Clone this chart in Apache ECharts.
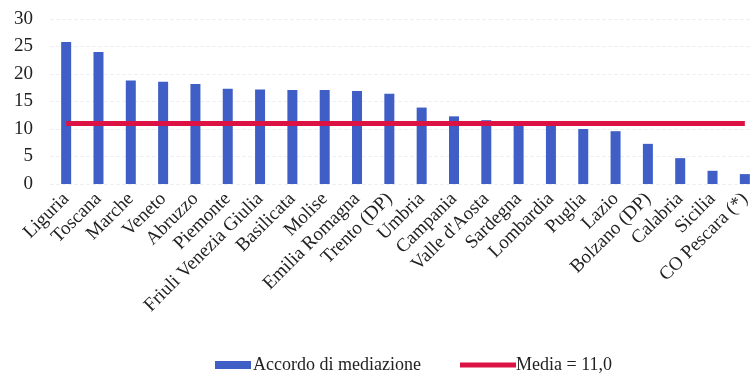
<!DOCTYPE html>
<html>
<head>
<meta charset="utf-8">
<script src="https://cdn.jsdelivr.net/npm/echarts@6/dist/echarts.min.js"></script>
<style>
  html, body { margin: 0; padding: 0; background: #ffffff; overflow: hidden; }
  #chart { width: 761px; height: 385px; }
</style>
</head>
<body>
<div id="chart"></div>
<script>
// Regions (and provinces) ordered by share of mediation agreements
const categories = [
  'Liguria', 'Toscana', 'Marche', 'Veneto', 'Abruzzo', 'Piemonte',
  'Friuli Venezia Giulia', 'Basilicata', 'Molise', 'Emilia Romagna',
  'Trento (DP)', 'Umbria', 'Campania', "Valle d'Aosta", 'Sardegna',
  'Lombardia', 'Puglia', 'Lazio', 'Bolzano (DP)', 'Calabria', 'Sicilia',
  'CO Pescara (*)'
];
const accordoValues = [
  25.8, 24.0, 18.8, 18.6, 18.2, 17.3,
  17.2, 17.1, 17.1, 16.9,
  16.4, 13.9, 12.3, 11.6, 11.1,
  11.0, 10.0, 9.6, 7.3, 4.7, 2.4,
  1.8
];
const mediaValues = [
  11.0, 11.0, 11.0, 11.0, 11.0, 11.0,
  11.0, 11.0, 11.0, 11.0,
  11.0, 11.0, 11.0, 11.0, 11.0,
  11.0, 11.0, 11.0, 11.0, 11.0, 11.0,
  11.0
];
const yTicks = [0, 5, 10, 15, 20, 25, 30];

const serif = '"Liberation Serif", "DejaVu Serif", serif';
const chart = echarts.init(document.getElementById('chart'), null, { renderer: 'canvas' });

chart.setOption({
  backgroundColor: '#ffffff',
  animation: false,
  grid: { left: 50, top: 19, right: 0, height: 165, containLabel: false },
  legend: [
    {
      data: [{ name: 'Accordo di mediazione', icon: 'rect' }],
      left: 215, top: 356, padding: 0,
      itemWidth: 36, itemHeight: 8, itemGap: 2,
      textStyle: { fontFamily: serif, fontSize: 18, color: '#222', padding: [0, 0, 0, -3] }
    },
    {
      data: [{ name: 'Media = 11,0', icon: 'rect' }],
      left: 460, top: 356, padding: 0,
      itemWidth: 56, itemHeight: 5, itemGap: 2,
      textStyle: { fontFamily: serif, fontSize: 18, color: '#222', padding: [0, 0, 0, -5] }
    }
  ],
  xAxis: {
    type: 'category',
    data: categories,
    axisLine: { show: false },
    axisTick: { show: false },
    axisLabel: {
      interval: 0,
      rotate: 45,
      margin: 12,
      fontFamily: serif,
      fontSize: 19,
      color: '#222'
    }
  },
  yAxis: {
    type: 'value',
    min: yTicks[0],
    max: yTicks[yTicks.length - 1],
    interval: 5,
    axisLine: { show: false },
    axisTick: { show: false },
    axisLabel: { margin: 17, fontFamily: serif, fontSize: 19, color: '#222' },
    splitLine: { lineStyle: { color: '#f0f0f0', type: 'dashed', width: 1 } }
  },
  series: [
    {
      name: 'Accordo di mediazione',
      type: 'bar',
      data: accordoValues,
      barWidth: 10,
      itemStyle: { color: '#3f5fc6' }
    },
    {
      name: 'Media = 11,0',
      type: 'line',
      data: mediaValues,
      symbol: 'none',
      lineStyle: { color: '#dc1244', width: 5 },
      itemStyle: { color: '#dc1244' },
      z: 3
    }
  ]
});
</script>
</body>
</html>
